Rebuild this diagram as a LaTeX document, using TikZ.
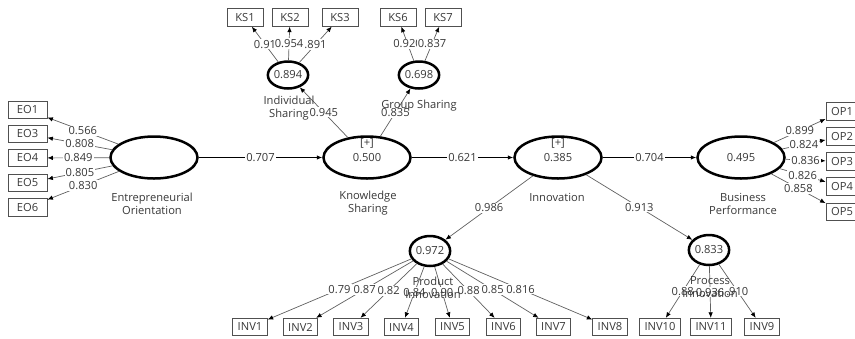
\documentclass[tikz,border=0pt]{standalone}
\usepackage{fontspec}
\setmainfont{Open Sans}
\usetikzlibrary{arrows.meta,shapes.geometric}
\definecolor{txt}{HTML}{383838}
\definecolor{ln}{HTML}{606060}
\definecolor{bx}{HTML}{505050}
\begin{document}
\begin{tikzpicture}[x=1bp,y=-1bp,
  font=\fontsize{11.2}{13}\selectfont, text=txt,
  ind/.style={draw=bx, line width=0.8bp, rectangle, minimum height=17.5bp, inner xsep=5bp, inner ysep=0bp},
  eob/.style={ind, minimum width=39bp},
  ksb/.style={ind, minimum width=36bp},
  opb/.style={ind, minimum width=32bp},
  lv/.style={ellipse, draw=black, line width=2.5bp, inner sep=0pt, minimum width=87bp, minimum height=42bp},
  lvs/.style={ellipse, draw=black, line width=2.5bp, inner sep=0pt, minimum width=35bp, minimum height=27bp},
  lvm/.style={ellipse, draw=black, line width=2.5bp, inner sep=0pt, minimum width=40bp, minimum height=30bp},
  load/.style={draw=ln, line width=0.7bp, -{Latex[length=5.5bp,width=4.5bp,color=black]}},
  pth/.style={draw=black, line width=0.9bp, -{Latex[length=5.5bp,width=4.5bp]}},
  coef/.style={fill=white, inner sep=1bp, pos=0.5},
  cname/.style={align=center, inner sep=0pt}
]
\useasboundingbox (0,0) rectangle (855,338);
\clip (0,0) rectangle (855,338);

% latent variables
\node[lv] (EOc) at (154,157.5) {};
\node[lv] (KSc) at (367,157.5) {0.500};
\node (KSplus) at (367,143) {[+]};
\node[lv] (INc) at (558,157.5) {0.385};
\node (INplus) at (558,143) {[+]};
\node[lv] (BPc) at (741,157.5) {0.495};
\node[lvs] (ISc) at (288,75) {0.894};
\node[lvs] (GSc) at (419,75) {0.698};
\node[lvm] (PDc) at (430,251) {0.972};
\node[lvm] (PCc) at (709,250) {0.833};

% indicators
\node[eob] (EO1) at (27.5,110) {EO1};
\node[eob] (EO3) at (27.5,134) {EO3};
\node[eob] (EO4) at (27.5,158) {EO4};
\node[eob] (EO5) at (27.5,183) {EO5};
\node[eob] (EO6) at (27.5,207.5) {EO6};

\node[ksb] (KS1) at (245,17.5) {KS1};
\node[ksb] (KS2) at (290,17.5) {KS2};
\node[ksb] (KS3) at (340,17.5) {KS3};
\node[ksb] (KS6) at (398,17.5) {KS6};
\node[ksb] (KS7) at (443,17.5) {KS7};

\node[opb] (OP1) at (842,111.5) {OP1};
\node[opb] (OP2) at (842,136.5) {OP2};
\node[opb] (OP3) at (842,161.5) {OP3};
\node[opb] (OP4) at (842,186.5) {OP4};
\node[opb] (OP5) at (842,212) {OP5};

\node[ind] (INV1) at (250,327) {INV1};
\node[ind] (INV2) at (300.5,327) {INV2};
\node[ind] (INV3) at (351,327) {INV3};
\node[ind] (INV4) at (401.5,327) {INV4};
\node[ind] (INV5) at (452.5,327) {INV5};
\node[ind] (INV6) at (503.5,327) {INV6};
\node[ind] (INV7) at (553.5,327) {INV7};
\node[ind] (INV8) at (610,327) {INV8};
\node[ind] (INV10) at (660,327) {INV10};
\node[ind] (INV11) at (711,327) {INV11};
\node[ind] (INV9) at (762,327) {INV9};

% structural paths
\draw[pth] (EOc) -- (KSc) node[coef]{0.707};
\draw[pth] (KSc) -- (INc) node[coef]{0.621};
\draw[pth] (INc) -- (BPc) node[coef]{0.704};
\draw[load] (KSc) -- (ISc) node[coef]{0.945};
\draw[load] (KSc) -- (GSc) node[coef]{0.835};
\draw[load] (INc) -- (PDc) node[coef]{0.986};
\draw[load] (INc) -- (PCc) node[coef]{0.913};

% loadings
\draw[load] (EOc) -- (EO1) node[coef]{0.566};
\draw[load] (EOc) -- (EO3) node[coef]{0.808};
\draw[load] (EOc) -- (EO4) node[coef]{0.849};
\draw[load] (EOc) -- (EO5) node[coef]{0.805};
\draw[load] (EOc) -- (EO6) node[coef]{0.830};

\draw[load] (ISc) -- (KS1) node[coef]{0.91};
\draw[load] (ISc) -- (KS3) node[coef]{.891};
\draw[load] (ISc) -- (KS2) node[coef]{0.954};
\draw[load] (GSc) -- (KS6) node[coef]{0.920};
\draw[load] (GSc) -- (KS7) node[coef]{0.837};

\draw[load] (BPc) -- (OP1) node[coef]{0.899};
\draw[load] (BPc) -- (OP2) node[coef]{0.824};
\draw[load] (BPc) -- (OP3) node[coef]{0.836};
\draw[load] (BPc) -- (OP4) node[coef]{0.826};
\draw[load] (BPc) -- (OP5) node[coef]{0.858};

\draw[load] (PDc) -- (INV1) node[coef]{0.79};
\draw[load] (PDc) -- (INV2) node[coef]{0.87};
\draw[load] (PDc) -- (INV3) node[coef]{0.82};
\draw[load] (PDc) -- (INV4) node[coef]{0.84};
\draw[load] (PDc) -- (INV5) node[coef]{0.90};
\draw[load] (PDc) -- (INV6) node[coef]{0.88};
\draw[load] (PDc) -- (INV7) node[coef]{0.85};
\draw[load] (PDc) -- (INV8) node[coef]{0.816};

\draw[load] (PCc) -- (INV10) node[coef]{0.88};
\draw[load] (PCc) -- (INV11) node[coef]{0.936};
\draw[load] (PCc) -- (INV9) node[coef]{.910};

% construct names
\node[cname] (EOn) at (152,203.5) {Entrepreneurial\\Orientation};
\node[cname] (KSn) at (368,203.5) {Knowledge\\Sharing};
\node[cname] (INn) at (557,197) {Innovation};
\node[cname] (BPn) at (743,203.5) {Business\\Performance};
\node[cname] (ISn) at (289,108) {Individual\\Sharing};
\node[cname] (GSn) at (419,106) {Group Sharing};
\node[cname] (PDn) at (433,288) {Product\\Innovation};
\node[cname] (PCn) at (710,287.5) {Process\\Innovation};
\end{tikzpicture}
\end{document}
